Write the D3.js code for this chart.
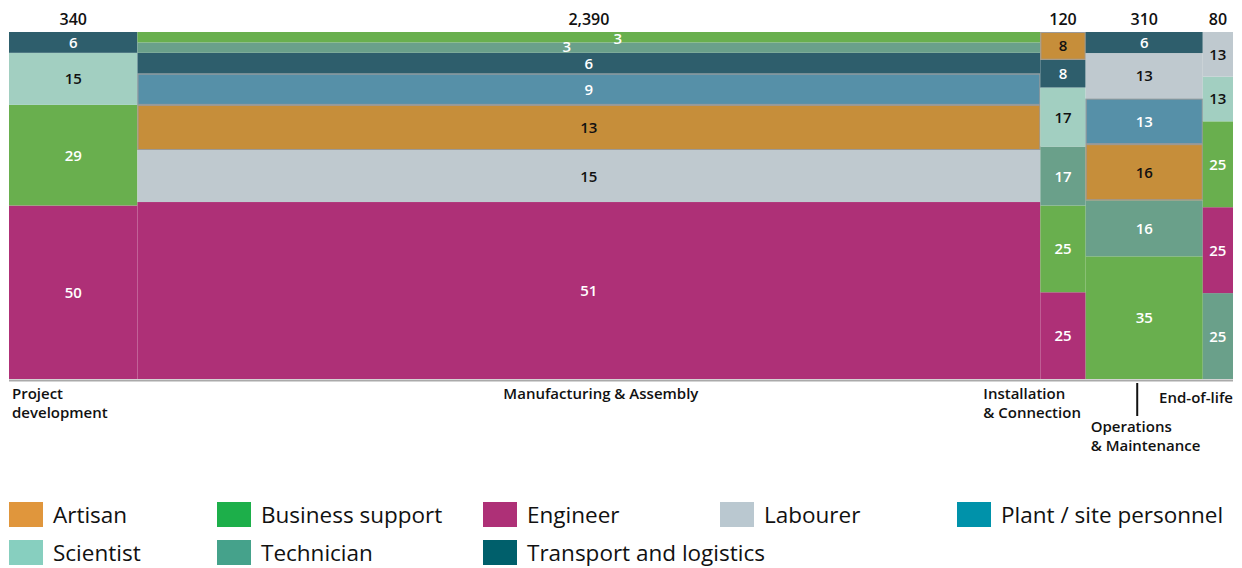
<!DOCTYPE html>
<html>
<head>
<meta charset="utf-8">
<script src="https://cdn.jsdelivr.net/npm/d3@7"></script>
<style>
  body { margin: 0; background: #fff; }
  svg text { font-family: "Open Sans", Lato, sans-serif; }
</style>
</head>
<body>
<svg id="chart" width="1242" height="568"></svg>
<script>
// stages along the value chain, with job totals (column widths)
var stages = ["Project development", "Manufacturing & Assembly", "Installation & Connection", "Operations & Maintenance", "End-of-life"];
var stageTotals = [340, 2390, 120, 310, 80];

// occupation shares (%) per stage, listed bottom to top
var projectRoles = ["Engineer", "Business support", "Scientist", "Transport and logistics"];
var projectShares = [50, 29, 15, 6];

var manufacturingRoles = ["Engineer", "Labourer", "Artisan", "Plant / site personnel", "Transport and logistics", "Technician", "Business support"];
var manufacturingShares = [51, 15, 13, 9, 6, 3, 3];

var installationRoles = ["Engineer", "Business support", "Technician", "Scientist", "Transport and logistics", "Artisan"];
var installationShares = [25, 25, 17, 17, 8, 8];

var operationsRoles = ["Business support", "Technician", "Artisan", "Plant / site personnel", "Labourer", "Transport and logistics"];
var operationsShares = [35, 16, 16, 13, 13, 6];

var endOfLifeRoles = ["Technician", "Engineer", "Business support", "Scientist", "Labourer"];
var endOfLifeShares = [25, 25, 25, 13, 13];

var legendRoles = ["Artisan", "Business support", "Engineer", "Labourer", "Plant / site personnel", "Scientist", "Technician", "Transport and logistics"];

var stageRoles = [projectRoles, manufacturingRoles, installationRoles, operationsRoles, endOfLifeRoles];
var stageShares = [projectShares, manufacturingShares, installationShares, operationsShares, endOfLifeShares];

// colours
var barColour = {
  "Artisan": "#c68e3a",
  "Business support": "#69af4e",
  "Engineer": "#ae3077",
  "Labourer": "#bfc9cf",
  "Plant / site personnel": "#5690a8",
  "Scientist": "#a2cfc1",
  "Technician": "#6aa08a",
  "Transport and logistics": "#2e5e6c"
};
var legendColour = {
  "Artisan": "#e0963c",
  "Business support": "#1daf4a",
  "Engineer": "#ae3077",
  "Labourer": "#bac8d0",
  "Plant / site personnel": "#0092aa",
  "Scientist": "#87cfbf",
  "Technician": "#45a28b",
  "Transport and logistics": "#005f6b"
};
var darkText = ["Artisan", "Labourer", "Scientist"];
var outlined = ["Artisan", "Plant / site personnel"];

var svg = d3.select("#chart");

var plotLeft = 9, plotRight = 1233, plotTop = 32, plotBottom = 379;

var grandTotal = d3.sum(stageTotals);
var x = d3.scaleLinear().domain([0, grandTotal]).range([plotLeft, plotRight]);
var y = d3.scaleLinear().domain([0, 100]).range([plotBottom, plotTop]);

// build the segments
var columns = [];
var cum = 0;
stages.forEach(function(stage, i) {
  var col = { stage: stage, total: stageTotals[i], x0: cum, x1: cum + stageTotals[i], segs: [] };
  var sum = d3.sum(stageShares[i]);
  var acc = 0;
  stageRoles[i].forEach(function(role, j) {
    var v = stageShares[i][j];
    col.segs.push({ role: role, value: v, y0: acc / sum * 100, y1: (acc + v) / sum * 100, stage: i });
    acc += v;
  });
  columns.push(col);
  cum += stageTotals[i];
});

var g = svg.append("g");

columns.forEach(function(col) {
  var cg = g.append("g");
  cg.selectAll("rect.seg")
    .data(col.segs).enter()
    .append("rect")
    .attr("class", "seg")
    .attr("x", x(col.x0))
    .attr("width", x(col.x1) - x(col.x0))
    .attr("y", function(d) { return y(d.y1); })
    .attr("height", function(d) { return y(d.y0) - y(d.y1); })
    .attr("fill", function(d) { return barColour[d.role]; });

  // thin grey outlines on a couple of categories
  cg.selectAll("rect.outline")
    .data(col.segs.filter(function(d) { return outlined.indexOf(d.role) >= 0; })).enter()
    .append("rect")
    .attr("class", "outline")
    .attr("x", x(col.x0) + 0.5)
    .attr("width", x(col.x1) - x(col.x0) - 1)
    .attr("y", function(d) { return y(d.y1) + 0.5; })
    .attr("height", function(d) { return y(d.y0) - y(d.y1) - 1; })
    .attr("fill", "none")
    .attr("stroke", "#9a9a9a")
    .attr("stroke-width", 1);

  // total on top
  svg.append("text")
    .attr("x", (x(col.x0) + x(col.x1)) / 2)
    .attr("y", 25)
    .attr("text-anchor", "middle")
    .attr("font-size", 16)
    .attr("font-weight", 600)
    .attr("fill", "#111")
    .text(d3.format(",")(col.total));
});

// value labels, the two thin manufacturing strips are pushed apart
var nudge = { "1|Business support": [29, 1], "1|Technician": [-22, -1] };
var allSegs = [];
columns.forEach(function(col) {
  col.segs.forEach(function(s) { s.cx = (x(col.x0) + x(col.x1)) / 2; allSegs.push(s); });
});

svg.append("g").selectAll("text")
  .data(allSegs).enter()
  .append("text")
  .attr("x", function(d) { var n = nudge[d.stage + "|" + d.role]; return d.cx + (n ? n[0] : 0); })
  .attr("y", function(d) { var n = nudge[d.stage + "|" + d.role]; return (y(d.y0) + y(d.y1)) / 2 + 5.5 + (n ? n[1] : 0); })
  .attr("text-anchor", "middle")
  .attr("font-size", 15)
  .attr("font-weight", 600)
  .attr("fill", function(d) { return darkText.indexOf(d.role) >= 0 ? "#111" : "#fff"; })
  .text(function(d) { return d.value; });

// baseline
svg.append("line")
  .attr("x1", plotLeft).attr("x2", plotRight)
  .attr("y1", plotBottom + 1.5).attr("y2", plotBottom + 1.5)
  .attr("stroke", "#aaaaaa")
  .attr("stroke-width", 2);

// stage labels underneath
var stageLabelLayout = [
  { lines: ["Project", "development"], anchor: "start", dx: function(c) { return x(c.x0) + 3; }, y: 399 },
  { lines: ["Manufacturing & Assembly"], anchor: "middle", dx: function(c) { return (x(c.x0) + x(c.x1)) / 2 + 12; }, y: 399 },
  { lines: ["Installation", "& Connection"], anchor: "start", dx: function(c) { return x(c.x0) - 57; }, y: 399 },
  { lines: ["Operations", "& Maintenance"], anchor: "start", dx: function(c) { return x(c.x0) + 5; }, y: 432, tick: true },
  { lines: ["End-of-life"], anchor: "end", dx: function(c) { return x(c.x1); }, y: 403 }
];

columns.forEach(function(col, i) {
  var lay = stageLabelLayout[i];
  var t = svg.append("text")
    .attr("text-anchor", lay.anchor)
    .attr("font-size", 15)
    .attr("font-weight", 600)
    .attr("fill", "#111");
  lay.lines.forEach(function(line, k) {
    t.append("tspan")
      .attr("x", lay.dx(col))
      .attr("y", lay.y + k * 19)
      .text(line);
  });
  if (lay.tick) {
    var mid = (x(col.x0) + x(col.x1)) / 2 - 7;
    svg.append("line")
      .attr("x1", mid).attr("x2", mid)
      .attr("y1", 383).attr("y2", 416)
      .attr("stroke", "#111")
      .attr("stroke-width", 2);
  }
});

// legend
var legendCols = [9, 217, 483, 720, 957];
var legend = svg.append("g");
legendRoles.forEach(function(role, i) {
  var lx = legendCols[i % 5];
  var ly = 502 + Math.floor(i / 5) * 38;
  legend.append("rect")
    .attr("x", lx).attr("y", ly)
    .attr("width", 34).attr("height", 25)
    .attr("fill", legendColour[role]);
  legend.append("text")
    .attr("x", lx + 44)
    .attr("y", ly + 20.5)
    .attr("font-size", 22.5)
    .attr("font-weight", 500)
    .attr("fill", "#111")
    .text(role);
});
</script>
</body>
</html>
